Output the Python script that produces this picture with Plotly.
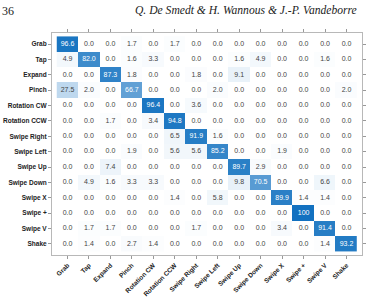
import plotly.graph_objects as go

classes = ["Grab", "Tap", "Expand", "Pinch", "Rotation CW", "Rotation CCW",
           "Swipe Right", "Swipe Left", "Swipe Up", "Swipe Down", "Swipe X",
           "Swipe +", "Swipe V", "Shake"]

row_grab = [96.6, 0.0, 0.0, 1.7, 0.0, 1.7, 0.0, 0.0, 0.0, 0.0, 0.0, 0.0, 0.0, 0.0]
row_tap = [4.9, 82.0, 0.0, 1.6, 3.3, 0.0, 0.0, 0.0, 1.6, 4.9, 0.0, 0.0, 1.6, 0.0]
row_expand = [0.0, 0.0, 87.3, 1.8, 0.0, 0.0, 1.8, 0.0, 9.1, 0.0, 0.0, 0.0, 0.0, 0.0]
row_pinch = [27.5, 2.0, 0.0, 66.7, 0.0, 0.0, 0.0, 2.0, 0.0, 0.0, 0.0, 0.0, 0.0, 2.0]
row_rot_cw = [0.0, 0.0, 0.0, 0.0, 96.4, 0.0, 3.6, 0.0, 0.0, 0.0, 0.0, 0.0, 0.0, 0.0]
row_rot_ccw = [0.0, 0.0, 1.7, 0.0, 3.4, 94.8, 0.0, 0.0, 0.0, 0.0, 0.0, 0.0, 0.0, 0.0]
row_sw_right = [0.0, 0.0, 0.0, 0.0, 0.0, 6.5, 91.9, 1.6, 0.0, 0.0, 0.0, 0.0, 0.0, 0.0]
row_sw_left = [0.0, 0.0, 0.0, 1.9, 0.0, 5.6, 5.6, 85.2, 0.0, 0.0, 1.9, 0.0, 0.0, 0.0]
row_sw_up = [0.0, 0.0, 7.4, 0.0, 0.0, 0.0, 0.0, 0.0, 89.7, 2.9, 0.0, 0.0, 0.0, 0.0]
row_sw_down = [0.0, 4.9, 1.6, 3.3, 3.3, 0.0, 0.0, 0.0, 9.8, 70.5, 0.0, 0.0, 6.6, 0.0]
row_sw_x = [0.0, 0.0, 0.0, 0.0, 0.0, 1.4, 0.0, 5.8, 0.0, 0.0, 89.9, 1.4, 1.4, 0.0]
row_sw_plus = [0.0, 0.0, 0.0, 0.0, 0.0, 0.0, 0.0, 0.0, 0.0, 0.0, 0.0, 100.0, 0.0, 0.0]
row_sw_v = [0.0, 1.7, 1.7, 0.0, 0.0, 0.0, 1.7, 0.0, 0.0, 0.0, 3.4, 0.0, 91.4, 0.0]
row_shake = [0.0, 1.4, 0.0, 2.7, 1.4, 0.0, 0.0, 0.0, 0.0, 0.0, 0.0, 0.0, 1.4, 93.2]

matrix = [row_grab, row_tap, row_expand, row_pinch, row_rot_cw, row_rot_ccw,
          row_sw_right, row_sw_left, row_sw_up, row_sw_down, row_sw_x,
          row_sw_plus, row_sw_v, row_shake]

page_number = "36"
running_head = "Q. De Smedt & H. Wannous & J.-P. Vandeborre"

blue = "rgb(18,113,192)"

fig = go.Figure()
fig.add_trace(go.Heatmap(
    z=matrix, x=classes, y=classes,
    colorscale=[[0, "white"], [1, blue]], zmin=0, zmax=100,
    showscale=False, hoverinfo="skip"))

tx, ty, tt, tc = [], [], [], []
for i, r in enumerate(classes):
    for j, c in enumerate(classes):
        v = matrix[i][j]
        tx.append(c)
        ty.append(r)
        tt.append("100" if v >= 100 else f"{v:.1f}")
        tc.append("white" if v > 50 else "#444444")

fig.add_trace(go.Scatter(
    x=tx, y=ty, text=tt, mode="text",
    textfont=dict(family="Liberation Sans, Arial", size=7, color=tc),
    hoverinfo="skip", showlegend=False))

axis_common = dict(
    showline=True, linecolor="#b8b8b8", linewidth=1, mirror="ticks",
    ticks="outside", ticklen=3, tickcolor="#999999", showgrid=False,
    zeroline=False, automargin=False,
    tickfont=dict(family="Liberation Sans, Arial", size=6.5, color="#222222",
                  weight="bold"))

fig.update_layout(
    width=367, height=299,
    margin=dict(l=52, r=5, t=33, b=44),
    paper_bgcolor="white", plot_bgcolor="white",
    xaxis=dict(**axis_common, tickangle=-45, categoryorder="array",
               categoryarray=classes),
    yaxis=dict(**axis_common, autorange="reversed", categoryorder="array",
               categoryarray=classes),
    showlegend=False,
    annotations=[
        dict(text=page_number, xref="paper", yref="paper", x=-52 / 310, y=1 + 22 / 222,
             xanchor="left", yanchor="middle", showarrow=False,
             font=dict(family="Liberation Serif", size=12, color="#222222")),
        dict(text="<i>" + running_head + "</i>", xref="paper", yref="paper",
             x=(133 - 52) / 310, y=1 + 22 / 222, xanchor="left", yanchor="middle",
             showarrow=False,
             font=dict(family="Liberation Serif", size=11.6, color="#222222")),
    ])

fig.write_html("out.html")
